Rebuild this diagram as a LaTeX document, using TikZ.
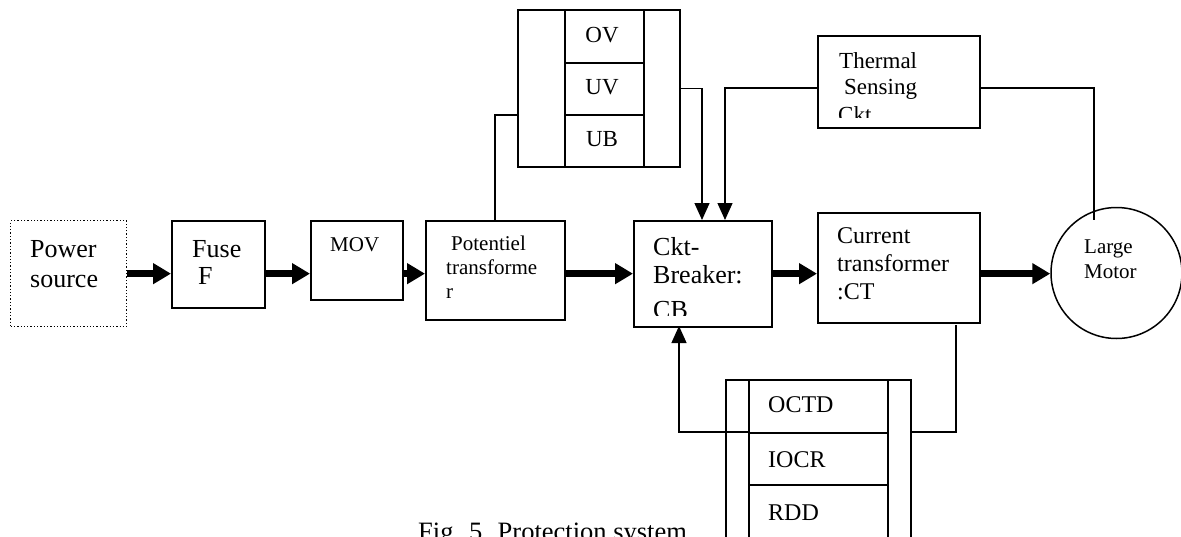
\documentclass[tikz,border=0pt]{standalone}
\usepackage{fontspec}
\setmainfont{Liberation Serif}
\usetikzlibrary{arrows.meta}
\newcommand{\fs}[1]{\fontsize{#1}{#1}\selectfont}
\begin{document}
\begin{tikzpicture}[x=1pt,y=-1pt,
  box/.style={draw,line width=1.7pt,rectangle,inner sep=0pt,anchor=north west},
  psbox/.style={draw,line width=1.3pt,dotted,rectangle,inner sep=0pt,anchor=north west},
  cell/.style={draw,line width=1.5pt,rectangle,inner sep=0pt,anchor=north west},
  txt/.style={inner sep=0pt,anchor=base west},
  ctxt/.style={inner sep=0pt,anchor=base},
  conn/.style={line width=1.3pt},
  thinarrow/.style={line width=1.3pt,-{Triangle[length=17pt,width=15pt]}},
  thickarrow/.style={line width=7pt,-{Triangle[length=18pt,width=20pt]}}]
\useasboundingbox[fill=white] (0,0) rectangle (1181,536);

% boxes
\node[psbox,minimum width=116pt,minimum height=106pt] (ps) at (10,220) {};
\node[box,minimum width=93pt,minimum height=87pt] (fuse) at (171,220) {};
\node[box,minimum width=92pt,minimum height=79pt] (mov) at (310,220) {};
\node[box,minimum width=139pt,minimum height=99pt] (pt) at (425,220) {};
\node[box,minimum width=138pt,minimum height=106pt] (cb) at (633,220) {};
\node[box,minimum width=162pt,minimum height=110pt] (ct) at (817,212) {};
\node[box,minimum width=162pt,minimum height=92pt] (thermal) at (817,35) {};
\node[draw,circle,line width=1.5pt,minimum size=131pt,inner sep=0pt] (motor) at (1116.5,273) {};

% top relay box
\node[box,minimum width=162pt,minimum height=157pt] (topbox) at (517,9) {};
\node[cell,minimum width=79pt,minimum height=53pt] (ovc) at (564,9) {};
\node[cell,minimum width=79pt,minimum height=52pt] (uvc) at (564,62) {};
\node[cell,minimum width=79pt,minimum height=52pt] (ubc) at (564,114) {};

% bottom relay box
\node[box,minimum width=185pt,minimum height=181pt] (botbox) at (725,379) {};
\node[cell,minimum width=139pt,minimum height=53pt] (octdc) at (748,379) {};
\node[cell,minimum width=139pt,minimum height=52pt] (iocrc) at (748,432) {};
\node[cell,minimum width=139pt,minimum height=76pt] (rddc) at (748,484) {};

% texts
\node[txt,font=\fs{26}] (t1) at (30,257) {Power};
\node[txt,font=\fs{26}] (t2) at (30,287) {source};
\node[txt,font=\fs{26}] (t3) at (192,257) {Fuse};
\node[txt,font=\fs{26}] (t4) at (198,284) {F};
\node[txt,font=\fs{21}] (t5) at (330,251) {MOV};
\node[txt,font=\fs{21}] (t6) at (451,250) {Potentiel};
\node[txt,font=\fs{21}] (t7) at (446,274) {transforme};
\node[txt,font=\fs{21}] (t8) at (446,298) {r};
\node[txt,font=\fs{26}] (t9) at (653,255) {Ckt-};
\node[txt,font=\fs{26}] (t10) at (653,283) {Breaker:};
\begin{scope}
\clip (640,290) rectangle (760,315);
\node[txt,font=\fs{26}] (t11) at (653,318) {CB};
\end{scope}
\node[txt,font=\fs{24}] (t12) at (837,243) {Current};
\node[txt,font=\fs{24}] (t13) at (837,271) {transformer};
\node[txt,font=\fs{24}] (t14) at (837,299) {:CT};
\node[txt,font=\fs{23}] (t15) at (839,68) {Thermal};
\node[txt,font=\fs{23}] (t16) at (844,94) {Sensing};
\begin{scope}
\clip (825,100) rectangle (970,117);
\node[txt,font=\fs{23}] (t17) at (838,122) {Ckt};
\end{scope}
\node[txt,font=\fs{21}] (t18) at (1084,253) {Large};
\node[txt,font=\fs{21}] (t19) at (1084,278) {Motor};
\node[ctxt,font=\fs{23}] (t20) at (602,42) {OV};
\node[ctxt,font=\fs{23}] (t21) at (602,94) {UV};
\node[ctxt,font=\fs{23}] (t22) at (602,146) {UB};
\node[txt,font=\fs{24}] (t23) at (768,412) {OCTD};
\node[txt,font=\fs{24}] (t24) at (768,467) {IOCR};
\node[txt,font=\fs{24}] (t25) at (768,520) {RDD};
\node[txt,font=\fs{26.5}] (cap) at (418,540) {Fig. 5. Protection system};

% helper coordinates
\coordinate (ptup) at (495,220);
\coordinate (tbin) at (517,115);
\coordinate (cbin1) at (702,220);
\coordinate (cbin2) at (725,220);
\coordinate (thl) at (817,88);
\coordinate (thr) at (979,88);
\coordinate (motin) at (1094,220);
\coordinate (ctout) at (956,325);
\coordinate (bbr) at (910,432);
\coordinate (bbl) at (748,432);
\coordinate (cbbot) at (679,326);

% main power path
\draw[thickarrow] (ps.east) -- (ps.east -| fuse.west);
\draw[thickarrow] (ps.east -| fuse.east) -- (ps.east -| mov.west);
\draw[thickarrow] (ps.east -| mov.east) -- (ps.east -| pt.west);
\draw[thickarrow] (ps.east -| pt.east) -- (ps.east -| cb.west);
\draw[thickarrow] (ps.east -| cb.east) -- (ps.east -| ct.west);
\draw[thickarrow] (ps.east -| ct.east) -- (ps.east -| motor.west);

% control connections
\draw[conn] (ptup) |- (tbin);
\draw[thinarrow] (topbox.east) -| (cbin1);
\draw[thinarrow] (thl) -| (cbin2);
\draw[conn] (thr) -| (motin);
\draw[conn] (ctout) |- (bbr);
\draw[thinarrow] (bbl) -| (cbbot);
\end{tikzpicture}
\end{document}
